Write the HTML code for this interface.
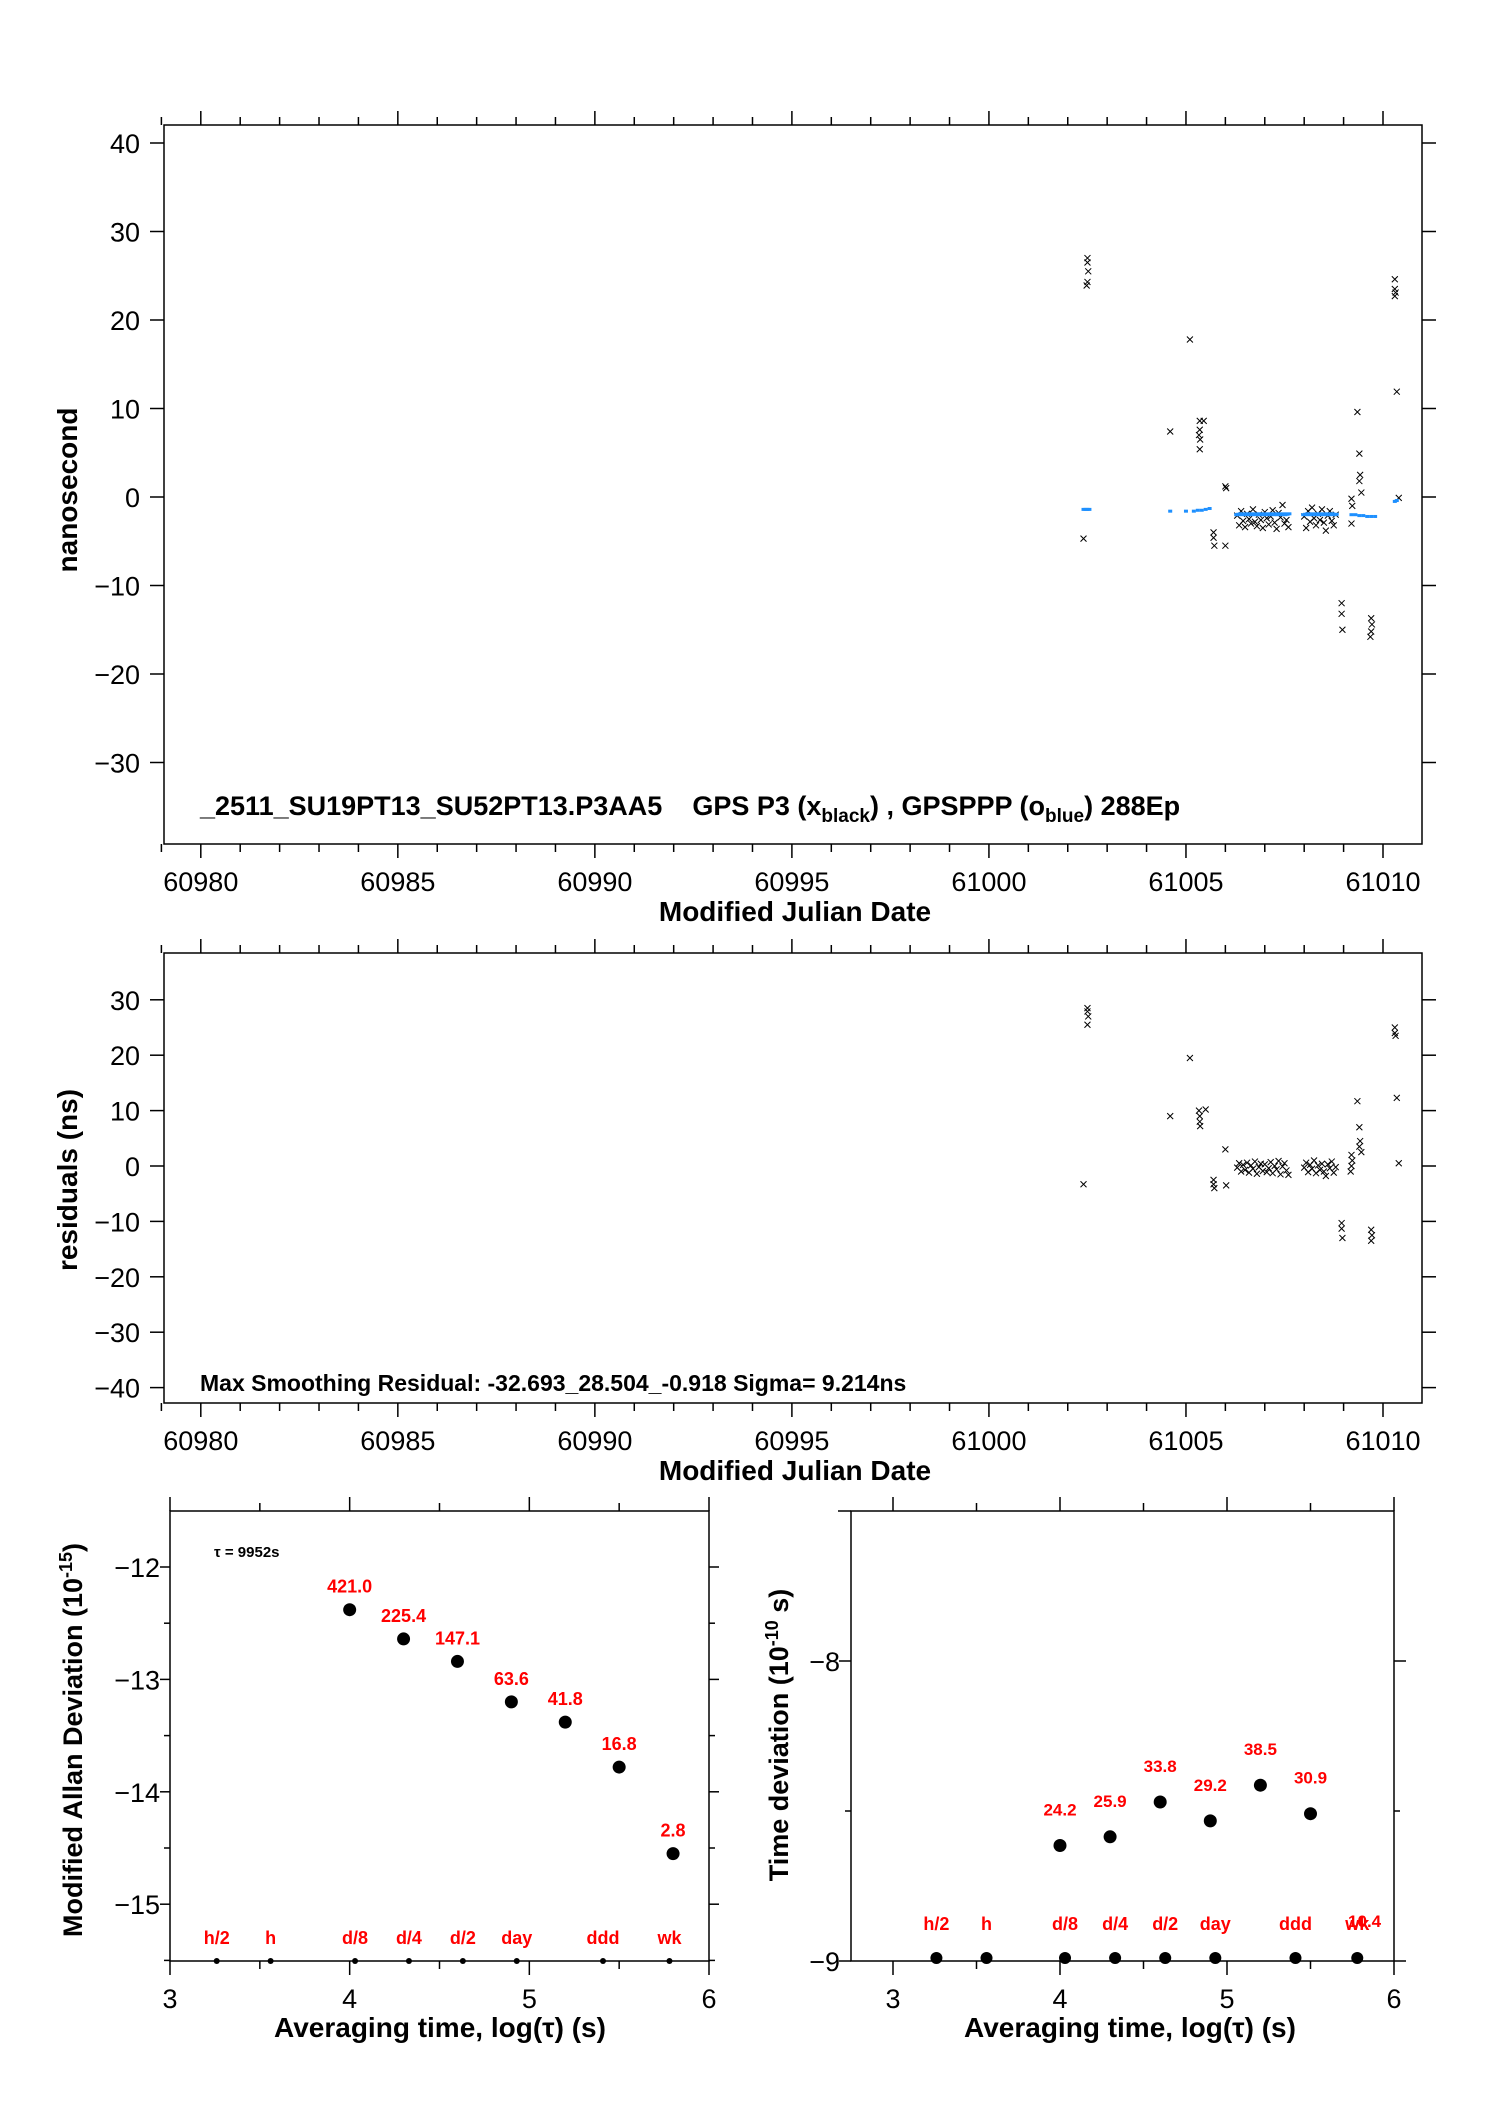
<!DOCTYPE html>
<html><head><meta charset="utf-8"><style>
body{margin:0;background:#fff}
svg{display:block;font-family:"Liberation Sans",sans-serif}
</style></head><body>
<svg id="s" width="1488" height="2105" viewBox="0 0 1488 2105"></svg>
<script>
// ---- data ----
const topBlackX=[61002.5,61002.5,61002.52,61002.5,61002.48,61002.4,61004.6,61005.1,61005.35,61005.35,61005.33,61005.36,61005.35,61005.45,61005.7,61005.7,61005.72,61006.0,61006.02,61006.0,61009.2,61009.22,61009.2,61009.35,61009.4,61009.42,61009.4,61009.45,61008.95,61008.95,61008.97,61009.7,61009.72,61009.7,61009.68,61010.3,61010.3,61010.32,61010.3,61010.35,61010.4];
const topBlackY=[27,26.5,25.5,24.3,23.9,-4.7,7.4,17.8,8.6,7.6,7.0,6.5,5.4,8.6,-4.0,-4.6,-5.5,1.2,1.0,-5.5,-0.2,-1.0,-3.0,9.6,4.9,2.5,1.8,0.5,-12,-13.2,-15,-13.7,-14.4,-15.2,-15.8,24.6,23.5,23.1,22.7,11.9,-0.1];
const clusterX=[61006.3,61006.35,61006.4,61006.45,61006.5,61006.55,61006.6,61006.65,61006.7,61006.75,61006.8,61006.85,61006.9,61006.95,61007.0,61007.05,61007.1,61007.15,61007.2,61007.25,61007.3,61007.35,61007.4,61007.45,61007.5,61007.55,61007.6,61008.0,61008.05,61008.1,61008.15,61008.2,61008.25,61008.3,61008.35,61008.4,61008.45,61008.5,61008.55,61008.6,61008.65,61008.7,61008.75,61008.8];
const clusterY=[-2.1,-3.2,-1.6,-2.7,-3.4,-1.9,-2.5,-3.0,-1.4,-2.8,-3.3,-2.0,-2.6,-3.5,-1.7,-2.4,-3.1,-2.2,-1.5,-2.9,-3.6,-1.8,-2.3,-0.9,-3.0,-2.6,-3.4,-2.2,-3.5,-1.6,-2.8,-1.2,-2.4,-3.2,-1.9,-2.6,-1.4,-2.9,-3.8,-2.1,-1.6,-2.7,-3.2,-2.0];
const blueX=[61002.4,61002.45,61002.5,61002.55,61004.6,61005.0,61005.2,61005.3,61005.4,61005.5,61005.6,61009.2,61009.3,61009.4,61009.5,61009.6,61009.7,61009.8,61010.3,61010.35];
const blueY=[-1.4,-1.4,-1.4,-1.4,-1.6,-1.6,-1.6,-1.5,-1.5,-1.4,-1.3,-2.0,-2.0,-2.1,-2.1,-2.2,-2.2,-2.2,-0.5,-0.4];
const resX=[61002.5,61002.5,61002.52,61002.5,61002.4,61004.6,61005.1,61005.35,61005.35,61005.33,61005.36,61005.5,61005.7,61005.7,61005.72,61006.0,61006.02,61009.2,61009.22,61009.2,61009.18,61009.35,61009.4,61009.42,61009.4,61009.45,61008.95,61008.95,61008.97,61009.7,61009.72,61009.7,61010.3,61010.3,61010.32,61010.35,61010.4];
const resY=[28.5,27.9,27,25.5,-3.3,9,19.5,8,9,10,7.2,10.2,-2.5,-3.3,-4,3,-3.5,2,1,0,-1,11.7,7,4.5,3.5,2.5,-10.3,-11.3,-13,-11.5,-12.5,-13.5,25,24,23.5,12.3,0.5];
const clusterResY=[-0.3,0.5,-1.0,0.2,-0.7,0.6,-1.2,0.1,-0.5,0.8,-1.4,-0.2,0.4,-0.9,0.3,-1.1,-0.4,0.7,-1.3,0,-0.6,0.9,-1.5,-0.1,0.5,-0.8,-1.6,-0.3,0.6,-1.1,0.2,-0.5,1.0,-1.3,0.1,-0.7,0.4,-1.0,-1.8,0.3,-0.4,0.8,-1.2,-0.2];
const adevX=[4.0,4.3,4.6,4.9,5.2,5.5,5.8];
const adevY=[-12.38,-12.64,-12.84,-13.2,-13.38,-13.78,-14.55];
const adevLbl=["421.0","225.4","147.1","63.6","41.8","16.8","2.8"];
const tdevX=[4.0,4.3,4.6,4.9,5.2,5.5];
const tdevY=[-8.615,-8.586,-8.47,-8.533,-8.414,-8.509];
const tdevLbl=["24.2","25.9","33.8","29.2","38.5","30.9"];
const markX=[3.26,3.56,4.03,4.33,4.63,4.93,5.41,5.78];
const markLbl=["h/2","h","d/8","d/4","d/2","day","ddd","wk"];
const mjdTicks=[60980,60985,60990,60995,61000,61005,61010];
const topYTicks=[40,30,20,10,0,-10,-20,-30];
const resYTicks=[30,20,10,0,-10,-20,-30,-40];

const S=document.getElementById('s');const NS='http://www.w3.org/2000/svg';
function mk(t,a,txt){const e=document.createElementNS(NS,t);for(const k in a)e.setAttribute(k,a[k]);if(txt!==undefined)e.textContent=txt;S.appendChild(e);return e;}
function line(x1,y1,x2,y2,w){return mk('line',{x1,y1,x2,y2,stroke:'#000','stroke-width':w||1.5});}
function cross(x,y,col){return mk('path',{d:`M${x-3},${y-3}L${x+3},${y+3}M${x-3},${y+3}L${x+3},${y-3}`,stroke:col||'#000','stroke-width':1,fill:'none'});}

const mx=v=>200.8+(v-60980)*(1383-200.8)/30;
const FR=1422;
function mjdFrame(top,bot,name){
  const f=mk('rect',{x:164,y:top,width:FR-164,height:bot-top,fill:'none',stroke:'#000','stroke-width':1.5});
  
  for(let v=60979;v<=61010;v++){const x=mx(v);const L=(v%5===0)?14:8;line(x,bot,x,bot+L);line(x,top,x,top-L);}
  mjdTicks.forEach(v=>{const t=mk('text',{x:mx(v),y:bot+47,'text-anchor':'middle','font-size':27},String(v));
    });
  const xt=mk('text',{x:795,y:bot+77,'text-anchor':'middle','font-size':28,'font-weight':'bold'},'Modified Julian Date');
  
}
const ty=v=>497-v*8.85;
mjdFrame(125,844,'top-plot');
topYTicks.forEach(v=>{const y=ty(v);line(150,y,164,y);line(FR,y,FR+14,y);
  const t=mk('text',{x:140,y:y+10,'text-anchor':'end','font-size':27},v<0?'\u2212'+(-v):String(v));
  });
let t=mk('text',{x:0,y:0,transform:'translate(77,490) rotate(-90)','text-anchor':'middle','font-size':28,'font-weight':'bold'},'nanosecond');

topBlackX.forEach((x,i)=>{const c=cross(mx(x),ty(topBlackY[i]));});
clusterX.forEach((x,i)=>{const c=cross(mx(x),ty(clusterY[i]));});
clusterX.forEach((x,i)=>{const c=mk('rect',{x:mx(x)-3,y:ty(-2.0+(i%3)*0.05)-1.5,width:6,height:3,fill:'#1e90ff'});});
blueX.forEach((x,i)=>{const c=mk('rect',{x:mx(x)-2,y:ty(blueY[i])-1.5,width:4,height:3,fill:'#1e90ff'});});
t=mk('text',{x:200,y:815,'font-size':27,'font-weight':'bold'});
t.innerHTML='_2511_SU19PT13_SU52PT13.P3AA5 &#160;&#160;&#160;GPS P3 (x<tspan font-size="19" dy="7">black</tspan><tspan dy="-7">) ,  GPSPPP (o</tspan><tspan font-size="19" dy="7">blue</tspan><tspan dy="-7">)  288Ep</tspan>';


const ry=v=>1166-v*5.54;
mjdFrame(953,1403,'residual-plot');
resYTicks.forEach(v=>{const y=ry(v);line(150,y,164,y);line(FR,y,FR+14,y);
  const t=mk('text',{x:140,y:y+10,'text-anchor':'end','font-size':27},v<0?'\u2212'+(-v):String(v));
  });
t=mk('text',{x:0,y:0,transform:'translate(77,1180) rotate(-90)','text-anchor':'middle','font-size':28,'font-weight':'bold'},'residuals (ns)');

resX.forEach((x,i)=>{const c=cross(mx(x),ry(resY[i]));});
clusterX.forEach((x,i)=>{const c=cross(mx(x),ry(clusterResY[i]));});
t=mk('text',{x:200,y:1391,'font-size':23,'font-weight':'bold'},'Max Smoothing Residual: -32.693_28.504_-0.918  Sigma= 9.214ns');


// Allan deviation plot
const AR=709;
const ax=v=>170+(v-3)*(AR-170)/3;
const ay=v=>1567-(v+12)*112.4;
let f=mk('rect',{x:170,y:1511,width:AR-170,height:450,fill:'none',stroke:'#000','stroke-width':1.5});

for(let v=3;v<=6;v+=0.5){const x=ax(v);const L=(v%1===0)?14:8;line(x,1961,x,1961+L);line(x,1511,x,1511-L);}
[3,4,5,6].forEach(v=>{const t=mk('text',{x:ax(v),y:2008,'text-anchor':'middle','font-size':27},String(v));});
for(let v=-12;v>=-15.5;v-=0.5){const y=ay(v);const L=(v%1===0)?10:6;line(170-L,y,170,y);line(AR,y,AR+L,y);}
[-12,-13,-14,-15].forEach(v=>{const t=mk('text',{x:160,y:ay(v)+10,'text-anchor':'end','font-size':27},'\u2212'+(-v));});
t=mk('text',{x:0,y:0,transform:'translate(82,1740) rotate(-90)','text-anchor':'middle','font-size':27,'font-weight':'bold'});
t.innerHTML='Modified Allan Deviation (10<tspan font-size="18" dy="-10">-15</tspan><tspan dy="10">)</tspan>';

t=mk('text',{x:440,y:2037,'text-anchor':'middle','font-size':28,'font-weight':'bold'},'Averaging time, log(\u03c4) (s)');

t=mk('text',{x:214,y:1557,'font-size':15,'font-weight':'bold'},'\u03c4 = 9952s');
adevX.forEach((x,i)=>{const c=mk('circle',{cx:ax(x),cy:ay(adevY[i]),r:6.5,fill:'#000'});
  const l=mk('text',{x:ax(x),y:ay(adevY[i])-17,'text-anchor':'middle','font-size':18,'font-weight':'bold',fill:'#f00'},adevLbl[i]);});
markX.forEach((x,i)=>{const c=mk('circle',{cx:ax(x),cy:1961,r:3,fill:'#000'});
  const l=mk('text',{x:ax(x),y:1944,'text-anchor':'middle','font-size':18,'font-weight':'bold',fill:'#f00'},markLbl[i]);});

// Time deviation plot
const BL=851,BR=1394;
const bx=v=>893+(v-3)*(BR-893)/3;
const by=v=>1961-(v+9)*300;
f=mk('rect',{x:BL,y:1511,width:BR-BL,height:450,fill:'none',stroke:'#000','stroke-width':1.5});

for(let v=3;v<=6;v+=0.5){const x=bx(v);const L=(v%1===0)?14:8;line(x,1961,x,1961+L);line(x,1511,x,1511-L);}
[3,4,5,6].forEach(v=>{const t=mk('text',{x:bx(v),y:2008,'text-anchor':'middle','font-size':27},String(v));});
[-8,-8.5,-9].forEach(v=>{const y=by(v);const L=(v%1===0)?12:6;line(BL-L,y,BL,y);line(BR,y,BR+L,y);});
line(BL-13,1511,BL,1511);
[-8,-9].forEach(v=>{const t=mk('text',{x:BL-11,y:by(v)+10,'text-anchor':'end','font-size':27},'\u2212'+(-v));});
t=mk('text',{x:0,y:0,transform:'translate(788,1735) rotate(-90)','text-anchor':'middle','font-size':27,'font-weight':'bold'});
t.innerHTML='Time deviation (10<tspan font-size="18" dy="-10">-10</tspan><tspan dy="10"> s)</tspan>';

t=mk('text',{x:1130,y:2037,'text-anchor':'middle','font-size':28,'font-weight':'bold'},'Averaging time, log(\u03c4) (s)');

tdevX.forEach((x,i)=>{const c=mk('circle',{cx:bx(x),cy:by(tdevY[i]),r:6.5,fill:'#000'});
  const l=mk('text',{x:bx(x),y:by(tdevY[i])-30,'text-anchor':'middle','font-size':17,'font-weight':'bold',fill:'#f00'},tdevLbl[i]);});
markX.forEach((x,i)=>{const c=mk('circle',{cx:bx(x),cy:1958,r:6,fill:'#000'});
  const l=mk('text',{x:bx(x),y:1930,'text-anchor':'middle','font-size':18,'font-weight':'bold',fill:'#f00'},markLbl[i]);});
t=mk('text',{x:bx(5.8)+4,y:1927,'text-anchor':'middle','font-size':17,'font-weight':'bold',fill:'#f00'},'10.4');
</script>
</body></html>
